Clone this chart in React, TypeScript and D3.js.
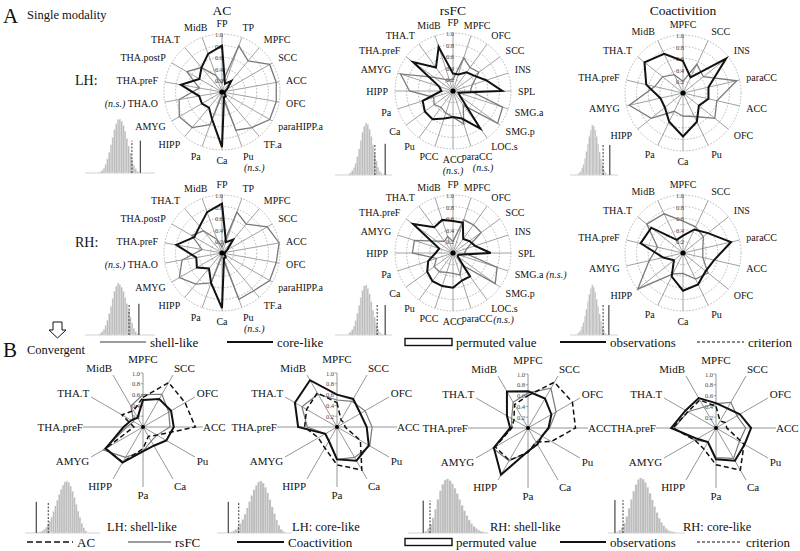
import React from 'react';
import * as d3 from 'd3';

const FONT = "'Liberation Serif', 'Times New Roman', Times, serif";

// ---------- Section A axes ----------
const AC_LABELS = ['FP','TP','MPFC','SCC','ACC','OFC','paraHIPP.a','TF.a','Pu','Ca','Pa','HIPP','AMYG','THA.O','THA.preF','THA.postP','THA.T','MidB'];
const RS_LABELS = ['FP','MPFC','OFC','SCC','INS','SPL','SMG.a','SMG.p','LOC.s','paraCC','ACC','PCC','Pu','Ca','Pa','HIPP','AMYG','THA.preF','THA.T','MidB'];
const CO_LABELS = ['MPFC','SCC','INS','paraCC','ACC','OFC','Pu','Ca','Pa','HIPP','AMYG','THA.preF','THA.T','MidB'];

const AC_LH_SHELL = [0.15,0.85,0.7,0.95,0.95,0.95,0.95,0.8,0.7,0.05,0.6,0.8,0.85,0.75,0.4,0.7,0.55,0.3];
const AC_LH_CORE  = [0.8,0.15,0.25,0.1,0.05,0.05,0.05,0.1,0.1,0.95,0.5,0.35,0.4,0.4,0.72,0.45,0.55,0.7];
const AC_RH_SHELL = [0.1,0.75,0.65,0.9,1.0,0.95,0.95,0.85,0.85,0.05,0.55,0.7,0.85,0.7,0.35,0.6,0.5,0.25];
const AC_RH_CORE  = [0.85,0.2,0.3,0.1,0.05,0.05,0.05,0.1,0.1,0.95,0.55,0.35,0.5,0.45,0.8,0.55,0.6,0.75];

const RS_LH_SHELL = [0.2,0.6,0.5,0.55,0.35,0.3,0.9,0.95,0.3,0.6,0.45,0.4,0.35,0.4,0.35,0.75,0.95,0.4,0.25,0.2];
const RS_LH_CORE  = [0.3,0.3,0.4,0.45,0.6,0.85,0.1,0.15,0.8,0.5,0.45,0.5,0.6,0.6,0.55,0.2,0.25,0.85,0.5,0.8];
const RS_RH_SHELL = [0.2,0.6,0.6,0.6,0.25,0.2,0.8,0.9,0.25,0.4,0.35,0.35,0.4,0.4,0.3,0.7,0.7,0.35,0.25,0.3];
const RS_RH_CORE  = [0.55,0.55,0.3,0.35,0.4,0.65,0.1,0.1,0.5,0.5,0.6,0.6,0.6,0.55,0.45,0.3,0.25,0.85,0.55,0.6];

const CO_LH_SHELL = [0.2,0.55,0.45,0.95,0.6,0.7,0.45,0.4,0.35,0.7,0.95,0.5,0.45,0.35];
const CO_LH_CORE  = [0.55,0.3,0.95,0.45,0.45,0.35,0.55,0.75,0.55,0.4,0.4,0.65,0.85,0.75];
const CO_RH_SHELL = [0.55,0.5,0.45,0.35,0.35,0.55,0.5,0.35,0.4,1.0,0.6,0.45,0.8,0.75];
const CO_RH_CORE  = [0.3,0.45,0.55,0.85,0.55,0.5,0.6,0.65,0.45,0.2,0.35,0.75,0.7,0.25];

const TICKS = [0.2, 0.4, 0.6, 0.8, 1.0];
const TICK_LABELS = ['0.2', '0.4', '0.6', '0.8', '1.0'];

// ---------- Section B ----------
const B_LABELS = ['MPFC','SCC','OFC','ACC','Pu','Ca','Pa','HIPP','AMYG','THA.preF','THA.T','MidB'];
const B1_AC = [0.55,0.95,0.9,0.97,0.3,0.2,0.4,0.75,0.8,0.17,0.45,0.35];
const B1_RS = [0.6,0.7,0.55,0.5,0.3,0.3,0.45,0.65,0.85,0.3,0.2,0.45];
const B1_CO = [0.5,0.6,0.6,0.57,0.5,0.4,0.45,0.76,0.8,0.36,0.25,0.2];
const B2_AC = [0.45,0.15,0.15,0.15,0.5,0.92,0.7,0.45,0.4,0.6,0.65,0.73];
const B2_RS = [0.5,0.55,0.6,0.65,0.7,0.65,0.6,0.3,0.25,0.55,0.75,0.7];
const B2_CO = [0.6,0.6,0.5,0.55,0.68,0.72,0.6,0.3,0.25,0.72,0.9,1.0];
const B3_AC = [0.6,0.98,0.95,0.88,0.5,0.3,0.45,0.69,0.7,0.3,0.3,0.5];
const B3_RS = [0.65,0.85,0.6,0.4,0.3,0.3,0.45,0.7,0.75,0.3,0.35,0.55];
const B3_CO = [0.68,0.63,0.5,0.38,0.3,0.35,0.43,1.0,0.73,0.33,0.45,0.78];
const B4_AC = [0.4,0.15,0.2,0.2,0.6,0.9,0.68,0.45,0.45,0.8,0.6,0.6];
const B4_RS = [0.45,0.55,0.45,0.55,0.5,0.65,0.55,0.3,0.45,0.78,0.6,0.45];
const B4_CO = [0.46,0.42,0.51,0.65,0.61,0.7,0.58,0.3,0.4,0.83,0.65,0.64];

// ---------- Histograms (permutation distributions) ----------
const H_A_LH_AC = [2,5,9,16,26,38,52,66,80,91,99,100,96,88,77,64,50,37,25,15,8,3];
const H_A_RH_AC = [3,6,11,18,28,41,55,70,84,94,100,97,92,84,72,60,47,34,23,13,6,2];
const H_A_LH_RS = [2,4,8,14,23,35,50,66,82,94,100,97,88,74,58,42,27,15,7,3];
const H_A_RH_RS = [3,6,11,18,29,43,59,75,89,98,100,94,82,66,50,35,22,12,5,2];
const H_A_LH_CO = [2,4,8,14,22,33,47,62,77,90,100,98,90,77,62,46,32,20,11,5,2];
const H_A_RH_CO = [3,5,10,17,26,38,52,67,81,93,100,96,86,72,57,42,28,17,9,4,2];
const H_B1 = [1,2,4,7,11,16,23,31,41,52,63,74,84,92,98,100,97,90,80,68,55,42,30,19,10,4];
const H_B2 = [1,2,4,7,12,18,26,36,48,60,72,83,92,98,100,96,88,77,64,50,37,25,15,7,3];
const H_B3 = [3,8,16,28,44,62,78,90,98,100,97,91,83,73,62,51,41,32,24,17,12,8,5,3,2,1];
const H_B4 = [2,5,10,18,30,45,61,76,88,97,100,98,92,83,72,60,48,37,27,19,13,8,5,3,2,1];

// bin start, bin width, criterion, observation (in the statistic's 0..1 units)
const HIST_STATS = {
  aLhAc: { start: 0.21, w: 0.025, crit: 0.67, obs: 0.79 },
  aRhAc: { start: 0.21, w: 0.025, crit: 0.63, obs: 0.77 },
  aLhRs: { start: 0.23, w: 0.03, crit: 0.70, obs: 0.88 },
  aRhRs: { start: 0.23, w: 0.03, crit: 0.74, obs: 0.88 },
  aLhCo: { start: 0.15, w: 0.03, crit: 0.69, obs: 0.83 },
  aRhCo: { start: 0.15, w: 0.03, crit: 0.69, obs: 0.81 },
  b1: { start: 0.17, w: 0.025, crit: 0.31, obs: 0.15 },
  b2: { start: 0.15, w: 0.03, crit: 0.29, obs: 0.15 },
  b3: { start: 0.21, w: 0.03, crit: 0.275, obs: 0.19 },
  b4: { start: 0.11, w: 0.03, crit: 0.195, obs: 0.09 },
};

type Note = { label: string; pos: 'left' | 'right' | 'below' };

function RadarA({ cx, cy, labels, shell, core, notes }:
  { cx: number; cy: number; labels: string[]; shell: number[]; core: number[]; notes: Note[] }) {
  const R = 58, RL = 65;
  const n = labels.length;
  const r = d3.scaleLinear().domain([0, 1]).range([0, R]);
  const ang = d3.scaleLinear().domain([0, n]).range([0, 2 * Math.PI]);
  const line = d3.lineRadial<number>().angle((_, i) => ang(i)).radius(d => r(d)).curve(d3.curveLinearClosed);
  return (
    <g transform={`translate(${cx},${cy})`} style={{ fontFamily: FONT }}>
      {TICKS.map(t => (
        <circle key={t} r={r(t)} fill="none" stroke="#9a9a9a" strokeWidth={0.7} strokeDasharray="1.6,1.6" />
      ))}
      {labels.map((_, i) => {
        const a = ang(i);
        return <line key={i} x1={0} y1={0} x2={r(1) * Math.sin(a)} y2={-r(1) * Math.cos(a)} stroke="#8a8a8a" strokeWidth={0.8} />;
      })}
      {TICKS.map((t, i) => (
        <text key={t} x={-3} y={-r(t) + 3} fontSize={6.5} textAnchor="middle" fill="#444">{TICK_LABELS[i]}</text>
      ))}
      <path d={line(shell) || ''} fill="none" stroke="#7a7a7a" strokeWidth={1.3} />
      <path d={line(core) || ''} fill="none" stroke="#111" strokeWidth={2} />
      <circle r={2.6} fill="#000" />
      {labels.map((lab, i) => {
        const a = ang(i);
        const s = Math.sin(a), c = Math.cos(a);
        const anchor = Math.abs(s) < 0.4 ? 'middle' : s > 0 ? 'start' : 'end';
        const nudge = anchor === 'middle' && Math.abs(s) > 0.25 ? Math.sign(s) * 4 : 0;
        const x = RL * s + nudge;
        const y = -RL * c + 3.5 - 3.5 * c;
        const note = notes.find(d => d.label === lab);
        return (
          <g key={lab}>
            <text x={x} y={y} fontSize={10} textAnchor={anchor} fill="#111">
              {note && note.pos === 'left' && <tspan fontStyle="italic">(n.s.) </tspan>}
              {lab}
              {note && note.pos === 'right' && <tspan fontStyle="italic"> (n.s.)</tspan>}
            </text>
            {note && note.pos === 'below' && (
              <text x={x + (s > 0.05 ? (anchor === 'middle' ? 6 : 2) : 0)} y={y + 11} fontSize={10} fontStyle="italic" textAnchor={anchor} fill="#111">(n.s.)</text>
            )}
          </g>
        );
      })}
    </g>
  );
}

function RadarB({ cx, cy, ac, rs, co }: { cx: number; cy: number; ac: number[]; rs: number[]; co: number[] }) {
  const R = 54, SP = 60, RL = 62;
  const n = B_LABELS.length;
  const r = d3.scaleLinear().domain([0, 1]).range([0, R]);
  const ang = d3.scaleLinear().domain([0, n]).range([0, 2 * Math.PI]);
  const line = d3.lineRadial<number>().angle((_, i) => ang(i)).radius(d => r(d)).curve(d3.curveLinearClosed);
  return (
    <g transform={`translate(${cx},${cy})`} style={{ fontFamily: FONT }}>
      {B_LABELS.map((_, i) => {
        const a = ang(i);
        const len = i === 0 ? r(1) : SP;
        return <line key={i} x1={0} y1={0} x2={len * Math.sin(a)} y2={-len * Math.cos(a)} stroke="#8a8a8a" strokeWidth={0.9} />;
      })}
      {TICKS.map((t, i) => (
        <g key={t}>
          <line x1={-2.5} x2={0} y1={-r(t)} y2={-r(t)} stroke="#666" strokeWidth={0.6} />
          <text x={-3} y={-r(t) + 2.5} fontSize={6.5} textAnchor="end" fill="#444">{TICK_LABELS[i]}</text>
        </g>
      ))}
      <path d={line(rs) || ''} fill="none" stroke="#7a7a7a" strokeWidth={1.2} />
      <path d={line(ac) || ''} fill="none" stroke="#111" strokeWidth={1.5} strokeDasharray="5,3" />
      <path d={line(co) || ''} fill="none" stroke="#111" strokeWidth={2} />
      <circle r={2} fill="#000" />
      {B_LABELS.map((lab, i) => {
        const a = ang(i);
        const s = Math.sin(a), c = Math.cos(a);
        const anchor = Math.abs(s) < 0.3 ? 'middle' : s > 0 ? 'start' : 'end';
        const rl = Math.abs(s) > 0.99 ? RL - 2 : RL;
        const x = rl * s;
        const y = -(RL + 2) * c + 4 - 4 * c;
        return <text key={lab} x={x} y={y} fontSize={11} textAnchor={anchor} fill="#111">{lab}</text>;
      })}
    </g>
  );
}

function Hist({ x0, x1, base, h, counts, st }:
  { x0: number; x1: number; base: number; h: number; counts: number[]; st: { start: number; w: number; crit: number; obs: number } }) {
  const x = d3.scaleLinear().domain([0, 1]).range([x0, x1]);
  const y = d3.scaleLinear().domain([0, d3.max(counts) || 1]).range([base, base - h]);
  const lh = h * 0.6;
  return (
    <g>
      <line x1={x0} x2={x1} y1={base} y2={base} stroke="#c8c8c8" strokeWidth={0.8} />
      {counts.map((c, i) => {
        const a = x(st.start + i * st.w), b = x(st.start + (i + 1) * st.w);
        return <rect key={i} x={a} width={b - a} y={y(c)} height={base - y(c)} fill="#bdbdbd" stroke="#e2e2e2" strokeWidth={0.35} />;
      })}
      <line x1={x(st.crit)} x2={x(st.crit)} y1={base} y2={base - lh} stroke="#222" strokeWidth={0.9} strokeDasharray="2,1.5" />
      <line x1={x(st.obs)} x2={x(st.obs)} y1={base} y2={base - lh} stroke="#222" strokeWidth={1} />
    </g>
  );
}

function LegendItem({ x, y, kind, text, len }: { x: number; y: number; kind: string; text: string; len: number }) {
  let mark: React.ReactNode = null;
  if (kind === 'gray') mark = <line x1={x} x2={x + len} y1={y} y2={y} stroke="#7a7a7a" strokeWidth={1.5} />;
  if (kind === 'black') mark = <line x1={x} x2={x + len} y1={y} y2={y} stroke="#111" strokeWidth={2.2} />;
  if (kind === 'dash') mark = <line x1={x} x2={x + len} y1={y} y2={y} stroke="#111" strokeWidth={1.5} strokeDasharray="6,3" />;
  if (kind === 'dot') mark = <line x1={x} x2={x + len} y1={y} y2={y} stroke="#111" strokeWidth={1.2} strokeDasharray="3,2" />;
  if (kind === 'rect') mark = <rect x={x} y={y - 3.5} width={len} height={7} fill="#fff" stroke="#111" strokeWidth={1.4} />;
  return (
    <g style={{ fontFamily: FONT }}>
      {mark}
      <text x={x + len + 4} y={y + 4.5} fontSize={13} fill="#111">{text}</text>
    </g>
  );
}

const A_NOTES_LH_AC: Note[] = [{ label: 'THA.O', pos: 'left' }, { label: 'Pu', pos: 'below' }];
const A_NOTES_RH_AC: Note[] = [{ label: 'THA.O', pos: 'left' }, { label: 'Pu', pos: 'below' }];
const A_NOTES_LH_RS: Note[] = [{ label: 'ACC', pos: 'below' }, { label: 'paraCC', pos: 'below' }];
const A_NOTES_RH_RS: Note[] = [{ label: 'SMG.a', pos: 'right' }, { label: 'LOC.s', pos: 'below' }];

export default function App() {
  return (
    <svg width={800} height={551} style={{ position: 'absolute', left: 0, top: 0, background: '#fff', fontFamily: FONT }}>
      <rect width={800} height={551} fill="#fff" />
      {/* Section A */}
      <text x={3} y={23} fontSize={21} fill="#111">A</text>
      <text x={27} y={19} fontSize={12.5} fill="#111">Single modality</text>
      <text x={222} y={15} fontSize={13.5} textAnchor="middle" fill="#111">AC</text>
      <text x={453} y={15} fontSize={13.5} textAnchor="middle" fill="#111">rsFC</text>
      <text x={683} y={15} fontSize={13.5} textAnchor="middle" fill="#111">Coactivition</text>
      <text x={75} y={85} fontSize={14} fill="#111">LH:</text>
      <text x={75} y={247} fontSize={14} fill="#111">RH:</text>

      <Hist x0={85} x1={155} base={173} h={54} counts={H_A_LH_AC} st={HIST_STATS.aLhAc} />
      <Hist x0={335} x1={392} base={175} h={52} counts={H_A_LH_RS} st={HIST_STATS.aLhRs} />
      <Hist x0={570} x1={618} base={175} h={50} counts={H_A_LH_CO} st={HIST_STATS.aLhCo} />
      <Hist x0={85} x1={155} base={335} h={52} counts={H_A_RH_AC} st={HIST_STATS.aRhAc} />
      <Hist x0={335} x1={392} base={335} h={50} counts={H_A_RH_RS} st={HIST_STATS.aRhRs} />
      <Hist x0={570} x1={618} base={335} h={50} counts={H_A_RH_CO} st={HIST_STATS.aRhCo} />

      <RadarA cx={222} cy={92} labels={AC_LABELS} shell={AC_LH_SHELL} core={AC_LH_CORE} notes={A_NOTES_LH_AC} />
      <RadarA cx={453} cy={91} labels={RS_LABELS} shell={RS_LH_SHELL} core={RS_LH_CORE} notes={A_NOTES_LH_RS} />
      <RadarA cx={683} cy={93} labels={CO_LABELS} shell={CO_LH_SHELL} core={CO_LH_CORE} notes={[]} />
      <RadarA cx={222} cy={253} labels={AC_LABELS} shell={AC_RH_SHELL} core={AC_RH_CORE} notes={A_NOTES_RH_AC} />
      <RadarA cx={453} cy={253} labels={RS_LABELS} shell={RS_RH_SHELL} core={RS_RH_CORE} notes={A_NOTES_RH_RS} />
      <RadarA cx={683} cy={253} labels={CO_LABELS} shell={CO_RH_SHELL} core={CO_RH_CORE} notes={[]} />

      {/* Legend A */}
      <LegendItem x={100} y={342} kind="gray" len={46} text="shell-like" />
      <LegendItem x={227} y={342} kind="black" len={46} text="core-like" />
      <LegendItem x={405} y={342} kind="rect" len={47} text="permuted value" />
      <LegendItem x={560} y={342} kind="black" len={46} text="observations" />
      <LegendItem x={697} y={342} kind="dot" len={47} text="criterion" />

      {/* Arrow */}
      <path d="M53,322 L62,322 L62,330 L66,330 L57.5,338 L49,330 L53,330 Z" fill="#fff" stroke="#111" strokeWidth={1} />

      {/* Section B */}
      <text x={3} y={357} fontSize={21} fill="#111">B</text>
      <text x={27} y={354} fontSize={12.5} fill="#111">Convergent</text>

      <Hist x0={25} x1={100} base={533} h={52} counts={H_B1} st={HIST_STATS.b1} />
      <Hist x0={217} x1={292} base={533} h={52} counts={H_B2} st={HIST_STATS.b2} />
      <Hist x0={408} x1={488} base={533} h={54} counts={H_B3} st={HIST_STATS.b3} />
      <Hist x0={608} x1={685} base={533} h={55} counts={H_B4} st={HIST_STATS.b4} />

      <RadarB cx={143} cy={427} ac={B1_AC} rs={B1_RS} co={B1_CO} />
      <RadarB cx={337} cy={427} ac={B2_AC} rs={B2_RS} co={B2_CO} />
      <RadarB cx={528} cy={428} ac={B3_AC} rs={B3_RS} co={B3_CO} />
      <RadarB cx={716} cy={428} ac={B4_AC} rs={B4_RS} co={B4_CO} />

      <text x={107} y={531} fontSize={12.5} fill="#111">LH: shell-like</text>
      <text x={292} y={531} fontSize={12.5} fill="#111">LH: core-like</text>
      <text x={490} y={531} fontSize={12.5} fill="#111">RH: shell-like</text>
      <text x={683} y={531} fontSize={12.5} fill="#111">RH: core-like</text>

      {/* Legend B */}
      <LegendItem x={27} y={542} kind="dash" len={46} text="AC" />
      <LegendItem x={128} y={542} kind="gray" len={43} text="rsFC" />
      <LegendItem x={237} y={542} kind="black" len={47} text="Coactivition" />
      <LegendItem x={405} y={542} kind="rect" len={47} text="permuted value" />
      <LegendItem x={560} y={542} kind="black" len={46} text="observations" />
      <LegendItem x={697} y={542} kind="dot" len={45} text="criterion" />
    </svg>
  );
}
